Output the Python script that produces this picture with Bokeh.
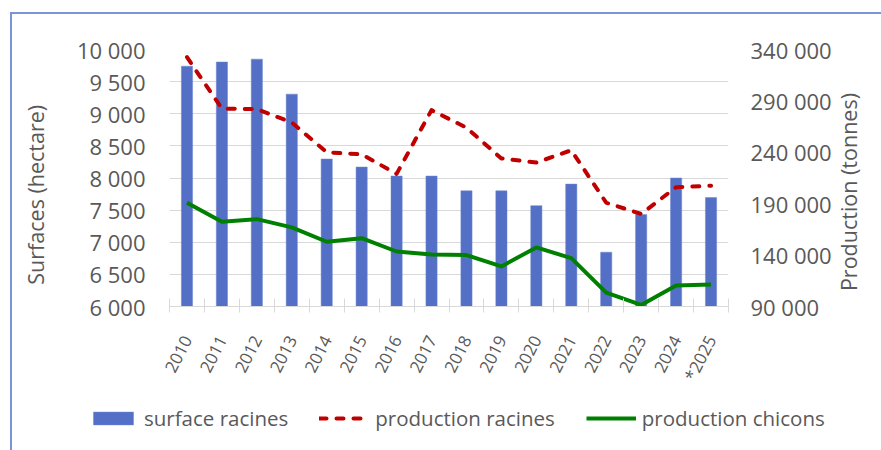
import math
from bokeh.plotting import figure
from bokeh.layouts import column, row
from bokeh.models import Range1d, LinearAxis, FixedTicker, Legend, LegendItem
from bokeh.embed import file_html
from bokeh.resources import INLINE

categories = ["2010", "2011", "2012", "2013", "2014", "2015", "2016", "2017",
              "2018", "2019", "2020", "2021", "2022", "2023", "2024", "*2025"]
surface_racines = [9740, 9805, 9850, 9305, 8295, 8170, 8030, 8030,
                   7800, 7800, 7570, 7905, 6845, 7430, 8000, 7695]
production_racines = [332500, 282500, 282000, 269000, 240000, 238000, 219000, 281000,
                      264000, 234000, 230000, 242000, 191000, 180000, 206000, 207500]
production_chicons = [191000, 172500, 175000, 167000, 153000, 156500, 143500, 140500,
                      140000, 129000, 147500, 137000, 103500, 91500, 110500, 111500]

left_ticks = [6000, 6500, 7000, 7500, 8000, 8500, 9000, 9500, 10000]
right_ticks = [90000, 140000, 190000, 240000, 290000, 340000]
series_names = ["surface racines", "production racines", "production chicons"]
left_title = "Surfaces (hectare)"
right_title = "Production (tonnes)"

FONT = "Open Sans"
TXT = "#595959"
GRID = "#d9d9d9"
EDGE = "#7a95d6"
BAR = "#5470C6"
RED = "#C00000"
GREEN = "#008000"

W, H = 881, 450
H1 = 392
RIGHT_TITLE_START = 105000   # where the rotated right title begins (right scale)

idx = list(range(len(categories)))

p = figure(width=W, height=H1, output_backend="svg", toolbar_location=None,
           x_range=Range1d(-0.5, len(categories) - 0.5),
           y_range=Range1d(left_ticks[0], left_ticks[-1]),
           min_border_left=169, min_border_right=153, min_border_top=49,
           min_border_bottom=H1 - 311)
p.extra_y_ranges = {"right": Range1d(right_ticks[0], right_ticks[-1])}
p.outline_line_color = None
p.background_fill_color = "white"
p.border_fill_color = None

def fmt(v):
    return f"{v:,}".replace(",", " ")

bar_style = dict(fill_color=BAR, line_color="#6b85cf", line_width=0.5)
red_style = dict(line_color=RED, line_width=4, line_dash="7 10", line_cap="round",
                 line_join="round")
green_style = dict(line_color=GREEN, line_width=4, line_join="round")

p.vbar(x=idx, top=surface_racines, bottom=left_ticks[0], width=0.32, **bar_style)
p.line(idx, production_racines, y_range_name="right", **red_style)
p.line(idx, production_chicons, y_range_name="right", **green_style)

# x axis
xa = p.xaxis[0]
xa.ticker = FixedTicker(ticks=idx, minor_ticks=[i - 0.5 for i in range(len(categories) + 1)])
xa.major_label_overrides = {i: c for i, c in zip(idx, categories)}
xa.major_tick_line_color = None
xa.major_tick_out = 0
xa.major_tick_in = 0
xa.minor_tick_line_color = GRID
xa.minor_tick_in = 8
xa.minor_tick_out = 6
xa.axis_line_color = GRID
xa.major_label_orientation = math.radians(63)
xa.major_label_text_font = FONT
xa.major_label_text_font_size = "17px"
xa.major_label_text_color = TXT
xa.major_label_standoff = 24

# left axis
ya = p.yaxis[0]
ya.ticker = FixedTicker(ticks=left_ticks, minor_ticks=[])
ya.major_label_overrides = {v: fmt(v) for v in left_ticks}
ya.axis_line_color = None
ya.major_tick_line_color = None
ya.minor_tick_line_color = None
ya.major_tick_out = 0
ya.major_label_standoff = 24
ya.major_label_text_font = FONT
ya.major_label_text_font_size = "22px"
ya.major_label_text_color = TXT
ya.axis_label = left_title + "\u00a0" * 6
ya.axis_label_text_font = FONT
ya.axis_label_text_font_size = "21.5px"
ya.axis_label_text_font_style = "normal"
ya.axis_label_text_color = TXT
ya.axis_label_standoff = 24

# right axis (values)
ra = LinearAxis(y_range_name="right", ticker=FixedTicker(ticks=right_ticks, minor_ticks=[]))
ra.major_label_overrides = {v: fmt(v) for v in right_ticks}
ra.axis_line_color = None
ra.major_tick_line_color = None
ra.minor_tick_line_color = None
ra.major_tick_out = 0
ra.major_label_standoff = 22
ra.major_label_text_font = FONT
ra.major_label_text_font_size = "22px"
ra.major_label_text_color = TXT
p.add_layout(ra, "right")

# right axis title, written bottom-to-top
rt = LinearAxis(y_range_name="right",
                ticker=FixedTicker(ticks=[RIGHT_TITLE_START], minor_ticks=[]))
rt.major_label_overrides = {RIGHT_TITLE_START: right_title}
rt.major_label_orientation = math.pi / 2
rt.axis_line_color = None
rt.major_tick_line_color = None
rt.minor_tick_line_color = None
rt.major_tick_out = 0
rt.major_tick_in = 0
rt.major_label_standoff = 14
rt.major_label_text_font = FONT
rt.major_label_text_font_size = "21.5px"
rt.major_label_text_color = TXT
p.add_layout(rt, "right")

p.xgrid.grid_line_color = None
p.ygrid.ticker = FixedTicker(ticks=left_ticks, minor_ticks=[])
p.ygrid.grid_line_color = GRID
p.ygrid.grid_line_width = 1

# legend strip (separate canvas below the chart); its glyphs are hidden,
# they only supply the legend swatches
pl = figure(width=W, height=H - H1, output_backend="svg", toolbar_location=None,
            x_range=Range1d(-0.5, len(categories) - 0.5),
            y_range=Range1d(left_ticks[0], left_ticks[-1]),
            x_axis_location=None, y_axis_location=None, min_border=0,
            min_border_left=0, min_border_right=0, min_border_top=0,
            min_border_bottom=0)
pl.extra_y_ranges = {"right": Range1d(right_ticks[0], right_ticks[-1])}
pl.outline_line_color = None
pl.background_fill_color = None
pl.border_fill_color = None
pl.grid.grid_line_color = None
lb = pl.vbar(x=idx, top=surface_racines, bottom=left_ticks[0], width=0.32,
             visible=False, **bar_style)
lr = pl.line(idx, production_racines, y_range_name="right", visible=False, **red_style)
lg = pl.line(idx, production_chicons, y_range_name="right", visible=False, **green_style)
legend = Legend(items=[LegendItem(label=n, renderers=[r])
                       for n, r in zip(series_names, [lb, lr, lg])],
                orientation="horizontal", location=(88, 18),
                glyph_width=50, glyph_height=16, label_standoff=6, spacing=31,
                padding=0, margin=0, border_line_color=None,
                background_fill_alpha=0, inactive_fill_alpha=0,
                label_text_font=FONT, label_text_font_size="20.5px",
                label_text_color=TXT, label_height=20)
pl.add_layout(legend, "center")

layout = column(p, row(pl), spacing=0)
layout.styles = {
    "background-color": "white",
    "background-image": f"linear-gradient({EDGE}, {EDGE}), linear-gradient({EDGE}, {EDGE})",
    "background-position": "10px 12px, 10px 12px",
    "background-size": "100% 2px, 2px 100%",
    "background-repeat": "no-repeat",
}

open("out.html", "w").write(file_html(layout, INLINE))
